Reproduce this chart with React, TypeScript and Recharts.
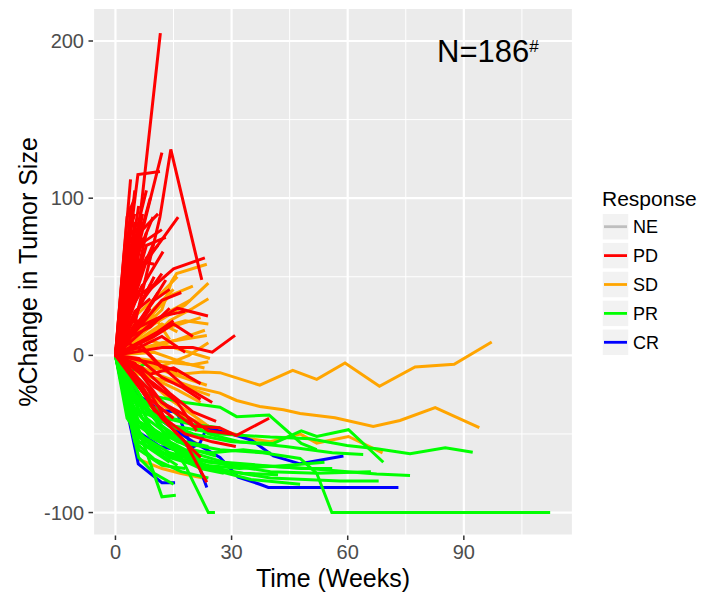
import { LineChart, Line, XAxis, YAxis, CartesianGrid } from "recharts";

// [week, % change] per patient, grouped by best response
const pdLines: number[][][] = [
  [[0, 0], [3.9, 112]],
  [[0, 0], [5.8, 115], [11.5, 117]],
  [[0, 0], [6, 80], [11.6, 205]],
  [[0, 0], [5, 20], [11.5, 88], [14.3, 131], [22.3, 48]],
  [[0, 0], [4, 50], [12, 129]],
  [[0, 0], [6, 95]],
  [[0, 0], [5, 60], [9.7, 88]],
  [[0, 0], [6, 70], [12, 80]],
  [[0, 0], [8, 60], [16.2, 88]],
  [[0, 0], [6, 40], [12.3, 66]],
  [[0, 0], [5, 85]],
  [[0, 0], [7, 75]],
  [[0, 0], [4, 70]],
  [[0, 0], [3, 45], [6, 55]],
  [[0, 0], [6, 30], [10, 50]],
  [[0, 0], [8, 40], [15, 55], [23.1, 62]],
  [[0, 0], [9, 20], [16, 30], [23.9, 25]],
  [[0, 0], [12, 5], [20, 5], [25, 2], [30.9, 12.7]],
  [[0, 0], [10, 35], [14, 42]],
  [[0, 0], [7, 25], [11, 40]],
  [[0, 0], [5, 15], [9, 30]],
  [[0, 0], [4, 30], [7, 45]],
  [[0, 0], [8, 10], [13, 18]],
  [[0, 0], [6, 5], [12, 12], [18, 2]],
  [[0, 0], [10, -5], [16, -10]],
  [[0, 0], [5, -5], [10, -20], [14, -25]],
  [[0, 0], [6, 50], [9, 65]],
  [[0, 0], [5.5, 65]],
  [[0, 0], [9, 45]],
  [[0, 0], [12, 35], [17, 40]],
  [[0, 0], [3, 88], [5, 100]],
  [[0, 0], [7, 55], [10, 72]],
  [[0, 0], [11, 15], [15, 22]],
  [[0, 0], [2, 40], [4, 95]],
  [[0, 0], [3, 60], [5, 105]],
  [[0, 0], [4, 88]],
  [[0, 0], [2.5, 70], [5, 90]],
  [[0, 0], [3.5, 50], [7, 85]],
  [[0, 0], [5, 45], [8, 78]],
  [[0, 0], [4, 40], [8, 62], [11, 70]],
  [[0, 0], [6, 60], [10, 58]],
  [[0, 0], [3, 25], [6, 38], [10, 45]],
  [[0, 0], [7, 35], [12, 52]],
  [[0, 0], [5, 28], [9, 36]],
  [[0, 0], [2, 20], [6, 22]],
  [[0, 0], [8, 28], [13, 48]],
  [[0, 0], [4, 12], [9, 18], [14, 30]],
  [[0, 0], [6, 18], [12, 25], [18, 28]],
  [[0, 0], [10, 12], [15, 20], [20, 12]],
  [[0, 0], [4, 55], [9, 100]],
  [[0, 0], [6, 85], [8, 105]],
  [[0, 0], [5, 75], [11, 90]],
  [[0, 0], [8, 70], [13, 75]],
  [[0, 0], [7, 90]],
  [[0, 0], [3, 8], [8, 2], [12, -8]],
  [[0, 0], [6, -2], [12, -14], [17, -20], [22, -28]],
  [[0, 0], [7, -8], [14, -24], [20, -36], [26, -42]],
  [[0, 0], [5, -12], [9, -28], [15, -40]],
  [[0, 0], [10, -18], [16, -30], [21, -48]],
  [[0, 0], [12, -30], [18, -38], [24, -48], [30, -50]],
  [[0, 0], [9, -12], [15, -8], [22, -18]],
  [[0, 0], [6, 8], [11, -5], [18, -20], [25, -30]],
  [[0, 0], [6, -20], [12, -40], [18, -55], [23.6, -80.7]],
  [[0, 0], [6, -10], [12, -30], [20, -45], [26.9, -46], [31.2, -51], [39.7, -40]],
  [[0, 0], [5, -15], [10, -35], [18, -50], [25, -55], [31.1, -58]],
  [[0, 0], [8, -20], [14, -45], [20, -60], [22, -65]],
];

const sdLines: number[][][] = [
  [[0, 0], [6, 15], [12, 29], [14.5, 47], [15.8, 52], [23.6, 58]],
  [[0, 0], [10, 20], [18, 32], [24, 46]],
  [[0, 0], [8, 18], [14, 28], [19.3, 35]],
  [[0, 0], [9, 5], [16, 10], [23.1, 16]],
  [[0, 0], [12, 8], [23.6, 12.7]],
  [[0, 0], [8, 10], [15, 5], [24.4, -2]],
  [[0, 0], [8, -6], [15, -12], [23.6, -19]],
  [[0, 0], [6, -12], [16, -18], [24.4, -25.5]],
  [[0, 0], [4.6, -52], [5.9, -66], [12, -72], [16.7, -75], [23.6, -78.5]],
  [[0, 0], [6, -3], [12, -8], [16.7, -12], [22.7, -10.6], [27, -11], [37.3, -19], [45.8, -9.6], [52, -15.3], [59.3, -4.9], [68.2, -19.7], [77.4, -7.4], [87.5, -5.7], [97.2, 8.5]],
  [[0, 0], [6, -8], [14, -15], [20, -20], [27, -24], [31.3, -28.7], [37.3, -32.5], [43.4, -34.6], [47.7, -37], [56.7, -39.7], [66.6, -45.2], [73.5, -41.4], [82.6, -33.3], [94, -46]],
  [[0, 0], [6, -20], [14, -35], [24, -45], [34.8, -53], [40, -55], [47.7, -50], [52, -55.8], [60.2, -51.6], [69, -62]],
  [[0, 0], [5, 20], [10, 25], [14, 10]],
  [[0, 0], [6, 10], [12, 20], [16, 15]],
  [[0, 0], [12, -4], [20, -6], [24, -4]],
  [[0, 0], [5, 12], [10, 30], [15, 42]],
  [[0, 0], [8, 22], [14, 38], [20, 44]],
  [[0, 0], [6, 8], [12, 18], [18, 22], [24, 20]],
  [[0, 0], [4, -5], [10, -15], [16, -22], [22, -30]],
  [[0, 0], [8, -15], [14, -28], [20, -38], [24, -45]],
  [[0, 0], [6, -25], [12, -40], [18, -52], [24, -60]],
  [[0, 0], [10, 2], [18, -5], [23, -8]],
  [[0, 0], [5, 25], [12, 40], [16, 50]],
  [[0, 0], [7, 5], [14, 22], [20, 30], [24, 36]],
  [[0, 0], [10, 15], [17, 20], [22, 24]],
  [[0, 0], [9, -10], [14, -5], [19, 0], [24, 8]],
];

const prLines: number[][][] = [
  [[0, 0], [5, -40], [12, -90], [15.6, -89]],
  [[0, 0], [10, -40], [18, -70], [24, -100], [25.7, -100]],
  [[0, 0], [8, -40], [16, -55], [27, -60], [38, -62], [47.7, -65.6], [52, -75], [55.9, -100], [112.3, -100]],
  [[0, 0], [8, -25], [18, -30], [27, -33], [31.3, -39], [39.7, -38], [48, -56], [52, -60]],
  [[0, 0], [10, -40], [20, -50], [30, -55], [40.8, -56], [48, -48], [52, -51.6], [60.2, -47.3], [69.2, -68]],
  [[0, 0], [6, -35], [15, -45], [27, -50], [40, -52], [50.3, -53], [59.8, -57.3], [67.5, -59.4], [76.1, -62.6], [85.2, -58.8], [92.3, -61.6]],
  [[0, 0], [6, -50], [14, -62], [24, -68], [36, -70], [50, -72], [60, -74], [67.5, -75.4], [76.1, -76.4]],
  [[0, 0], [6, -45], [12, -55], [20, -62], [28, -68], [38, -70], [48, -72], [56, -72]],
  [[0, 0], [5, -50], [12, -62], [20, -66], [30, -70], [40, -74], [52, -75], [66, -74]],
  [[0, 0], [6, -55], [15, -65], [24, -70], [32, -72], [44, -70], [54, -68]],
  [[0, 0], [5, -40], [12, -55], [20, -68], [30, -74], [40, -78], [58, -80], [68, -80]],
  [[0, 0], [6, -50], [14, -65], [24, -72], [35, -79], [47.7, -82]],
  [[0, 0], [4, -30], [10, -50], [18, -60], [25, -62], [33, -60], [40, -62]],
  [[0, 0], [5, -45], [10, -60], [16, -65], [22, -72], [28, -75]],
  [[0, 0], [4, -20], [8, -35], [14, -45], [20, -50]],
  [[0, 0], [6, -30], [12, -45], [18, -55], [24, -58]],
  [[0, 0], [3, -30], [6, -55], [11, -62], [16, -70]],
  [[0, 0], [5, -35], [10, -48], [14, -55]],
  [[0, 0], [7, -40], [14, -58], [22, -66], [30, -70], [36, -72]],
  [[0, 0], [5, -25], [10, -40], [15, -52], [20, -60], [26, -64]],
  [[0, 0], [6, -60], [12, -70], [18, -72]],
  [[0, 0], [4, -10], [8, -5]],
  [[0, 0], [8, -20], [16, -38], [24, -50], [32, -55], [44, -58], [56, -62], [64, -63]],
  [[0, 0], [3, -20], [7, -30], [12, -35]],
  [[0, 0], [4, -35], [9, -52], [15, -60], [22, -64]],
  [[0, 0], [6, -42], [12, -50], [19, -58]],
  [[0, 0], [5, -55], [10, -66], [17, -74], [24, -78]],
  [[0, 0], [7, -28], [13, -40], [20, -44], [27, -46]],
  [[0, 0], [3, -40], [8, -58], [14, -68]],
  [[0, 0], [6, -65], [10, -75], [15, -82]],
  [[0, 0], [9, -45], [17, -62], [25, -72], [33, -75], [42, -76]],
  [[0, 0], [5, -30], [11, -38], [18, -42]],
];

const crLines: number[][][] = [
  [[0, 0], [5.9, -69], [12, -81], [15.4, -81]],
  [[0, 0], [4, -18], [6.3, -26], [11.5, -35], [15.8, -36], [20, -60], [23.6, -84]],
  [[0, 0], [5.5, -48], [11.5, -58], [18, -61], [21.8, -56], [23.6, -46], [31.3, -51], [35.2, -54], [40.8, -64], [47.7, -69], [58.9, -64]],
  [[0, 0], [8, -35], [20, -55], [27, -65], [31.7, -77.5], [37.3, -82], [39.5, -84], [73.1, -84]],
];

const responses = ["NE", "PD", "SD", "PR", "CR"];
const responseColors: Record<string, string> = {
  NE: "#BEBEBE",
  PD: "#FF0000",
  SD: "#FFA500",
  PR: "#00FF00",
  CR: "#0000FF",
};

const xDomain = [-5.8, 118.2];
const yDomain = [-114.6, 221];
const xTicks = [0, 30, 60, 90];
const xMinor = [15, 45, 75, 105];
const yTicks = [-100, 0, 100, 200];
const yMinor = [-50, 50, 150];

const font = "'Liberation Sans', Arial, sans-serif";

const groups = [
  { resp: "SD", lines: sdLines },
  { resp: "CR", lines: crLines },
  { resp: "PR", lines: prLines },
  { resp: "PD", lines: pdLines },
];

const series = groups.flatMap((g) =>
  g.lines.map((pts, i) => ({
    key: `${g.resp}-${i}`,
    color: responseColors[g.resp],
    data: pts.map(([x, y]) => ({ x, y })),
  }))
);

// minor grid positions from the plot offset (axis objects carry no scale here)
const minorX = ({ offset }: any) =>
  xMinor.map((v) => offset.left + ((v - xDomain[0]) / (xDomain[1] - xDomain[0])) * offset.width);
const minorY = ({ offset }: any) =>
  yMinor.map((v) => offset.top + ((yDomain[1] - v) / (yDomain[1] - yDomain[0])) * offset.height);

export default function App() {
  return (
    <div style={{ position: "absolute", left: 0, top: 0, fontFamily: font }}>
      <LineChart width={708} height={592} margin={{ top: 8, right: 135, bottom: 0, left: 0 }}>
        <CartesianGrid
          fill="#EBEBEB"
          stroke="#FFFFFF"
          strokeWidth={1}
          verticalCoordinatesGenerator={minorX}
          horizontalCoordinatesGenerator={minorY}
        />
        <CartesianGrid stroke="#FFFFFF" strokeWidth={2.2} />
        <XAxis
          type="number"
          dataKey="x"
          domain={xDomain}
          ticks={xTicks}
          height={56.5}
          axisLine={false}
          tickSize={4.5}
          tickMargin={5}
          tickLine={{ stroke: "#333333", strokeWidth: 1.5 }}
          tick={{ fill: "#4D4D4D", fontSize: 20, fontFamily: font }}
        />
        <YAxis
          type="number"
          domain={yDomain}
          ticks={yTicks}
          width={93}
          axisLine={false}
          tickSize={4.5}
          tickMargin={4.5}
          tickLine={{ stroke: "#333333", strokeWidth: 1.5 }}
          tick={{ fill: "#4D4D4D", fontSize: 20, fontFamily: font }}
        />
        {series.map((s) => (
          <Line
            key={s.key}
            data={s.data}
            dataKey="y"
            type="linear"
            stroke={s.color}
            strokeWidth={3}
            dot={false}
            activeDot={false}
            isAnimationActive={false}
          />
        ))}
        <text x={333} y={587} textAnchor="middle" fontSize={25} fill="#000" fontFamily={font}>
          Time (Weeks)
        </text>
        <text
          x={37}
          y={272}
          textAnchor="middle"
          fontSize={25}
          fill="#000"
          fontFamily={font}
          transform="rotate(-90 37 272)"
        >
          %Change in Tumor Size
        </text>
        <text x={437} y={62} fontSize={31} fill="#000" fontFamily={font}>
          N=186
          <tspan fontSize={17} dy={-10}>#</tspan>
        </text>
        <g>
          <text x={602} y={206} fontSize={21} fill="#000" fontFamily={font}>
            Response
          </text>
          {responses.map((r, i) => {
            const cy = 226.7 + i * 28.9;
            return (
              <g key={r}>
                <rect x={602} y={cy - 13.5} width={27} height={27} fill="#F2F2F2" stroke="#FFFFFF" strokeWidth={1.5} />
                <line x1={604} x2={627} y1={cy} y2={cy} stroke={responseColors[r]} strokeWidth={2.8} />
                <text x={633} y={cy + 6.5} fontSize={18} fill="#000" fontFamily={font}>
                  {r}
                </text>
              </g>
            );
          })}
        </g>
      </LineChart>
    </div>
  );
}
